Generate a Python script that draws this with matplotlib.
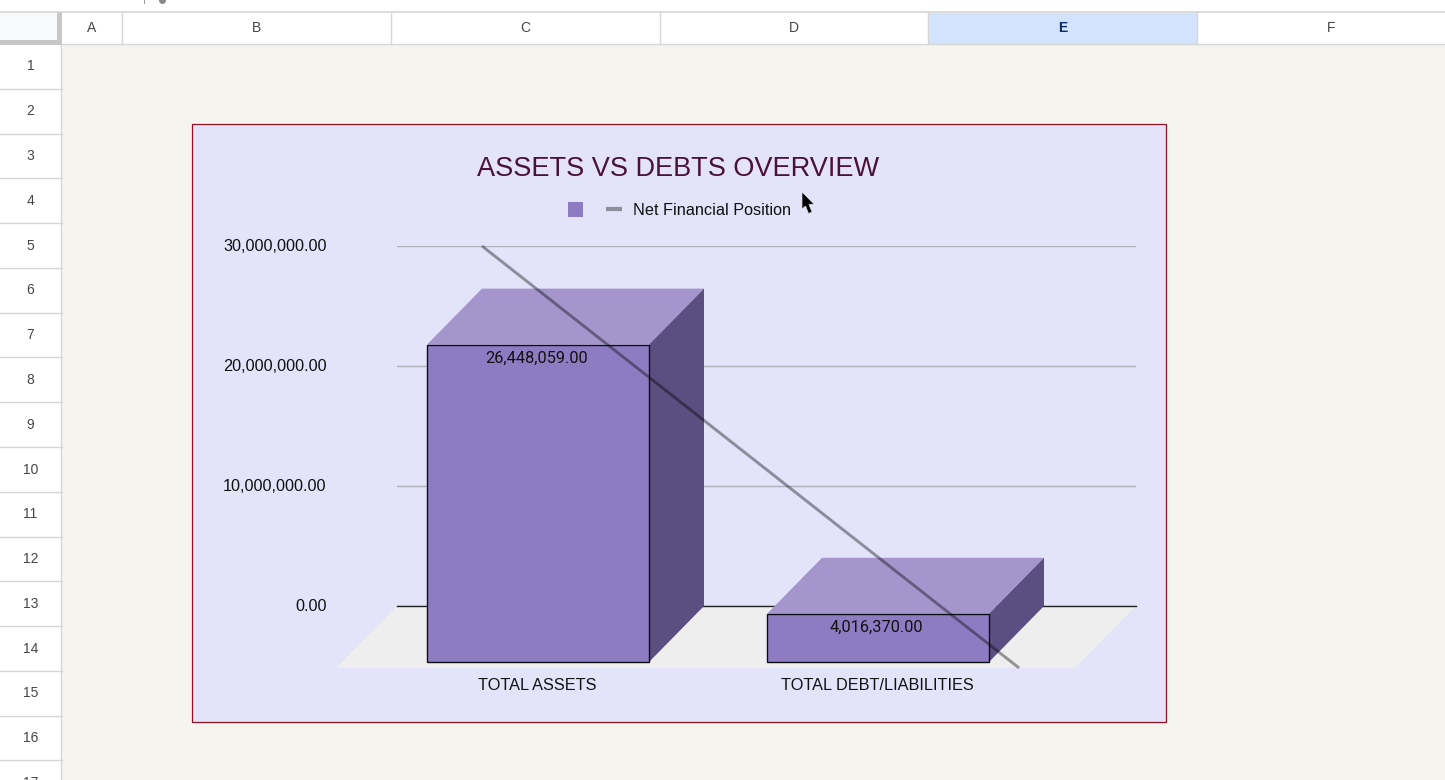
import matplotlib
matplotlib.use("Agg")
import matplotlib.pyplot as plt
from matplotlib.patches import Rectangle, Patch, Polygon
from matplotlib.lines import Line2D
from matplotlib.transforms import ScaledTranslation

# ---- data ----
categories = ["TOTAL ASSETS", "TOTAL DEBT/LIABILITIES"]
bar_values = [26448059.00, 4016370.00]
bar_labels = ["26,448,059.00", "4,016,370.00"]
net_position = [22730000.0, 470000.0]
y_ticks = [0, 10000000, 20000000, 30000000]
y_tick_labels = ["0.00", "10,000,000.00", "20,000,000.00", "30,000,000.00"]
title = "ASSETS VS DEBTS OVERVIEW"
legend_labels = [" ", "Net Financial Position"]
col_names = ["A", "B", "C", "D", "E", "F"]
row_names = [str(i) for i in range(1, 18)]

# ---- layout helpers (pixels) ----
W, H = 1445, 780
plt.rcParams["font.family"] = ["Liberation Sans", "DejaVu Sans"]
fig = plt.figure(figsize=(W / 100, H / 100), dpi=100, facecolor="#ffffff")
PT = 72 / 100  # points per pixel

# ---- spreadsheet chrome in pixel coordinates ----
bg = fig.add_axes([0, 0, 1, 1], zorder=0)
bg.set_xlim(0, W)
bg.set_ylim(H, 0)
bg.axis("off")
GRID = "#d6d6d6"
HEAD = "#444746"
bg.add_patch(Rectangle((62, 44), W - 62, H - 44, fc="#f5f4ef", ec="none"))
bg.add_patch(Rectangle((0, 12), 58, 28, fc="#f8f9fa", ec="none"))
bg.add_patch(Rectangle((57, 12), 5, 32, fc="#c7c7c7", ec="none"))
bg.add_patch(Rectangle((0, 40), 62, 4.5, fc="#c7c7c7", ec="none"))
bg.plot([0, W], [12, 12], color=GRID, lw=1.2)
bg.plot([62, W], [44, 44], color=GRID, lw=1.0)
bg.plot([61, 61], [44, H], color=GRID, lw=1.0)
bg.plot([144, 144], [0, 3], color="#9a9a9a", lw=0.7)
bg.plot([162], [0], "o", color="#8a8a8a", ms=4, clip_on=True)

col_edges = [62, 122, 391, 659.5, 928, 1197, 1465]
bg.add_patch(Rectangle((928, 13), 269, 31, fc="#d3e3fd", ec="none"))
for i, name in enumerate(col_names):
    left, right = col_edges[i], col_edges[i + 1]
    if i > 0:
        bg.plot([left, left], [12, 44], color=GRID, lw=1.0)
    active = name == "E"
    bg.text((left + right) / 2, 28.5, name, ha="center", va="center", fontsize=10,
            color="#0b2a63" if active else HEAD,
            fontweight="bold" if active else "normal")
for i, name in enumerate(row_names):
    top = 44 + i * 44.78
    bg.plot([0, 62], [top + 44.78, top + 44.78], color=GRID, lw=1.0)
    bg.text(30.5, top + 22.5, name, ha="center", va="center", fontsize=10, color=HEAD)

bg.add_patch(Rectangle((191.5, 124), 974.5, 598, fc="#e3e3f9", ec="#930f24", lw=0.9))

# ---- chart axes: x = 397..1136 px, value 0 at y=606 px, 30M at y=246 px ----
ax = fig.add_axes([397 / W, 1 - 606 / H, 739 / W, 360 / H], zorder=1)
ax.patch.set_alpha(0)
PX_PER_CAT = 340.0
PX_PER_VAL = 360.0 / 30000000
ax.set_xlim((397 - 538) / PX_PER_CAT, (1136 - 538) / PX_PER_CAT)
ax.set_ylim(0, 30000000)
x_pos = list(range(len(categories)))
bar_w = 222 / PX_PER_CAT
dx_bar, dy_bar = 55 / PX_PER_CAT, 56 / PX_PER_VAL
dx_floor, dy_floor = 61 / PX_PER_CAT, 62 / PX_PER_VAL

for s in ("top", "left", "right"):
    ax.spines[s].set_visible(False)
ax.spines["bottom"].set_color("#222222")
ax.spines["bottom"].set_linewidth(1.0)
ax.spines["bottom"].set_zorder(1.5)
ax.grid(axis="y", color="#aeb0bd", lw=1.0, zorder=1)
ax.set_axisbelow(True)
ax.set_yticks(y_ticks, y_tick_labels, fontsize=11.7, color="#111111")
ax.set_xticks(x_pos, categories, fontsize=11.7, color="#111111")
ax.tick_params(axis="y", length=0, pad=70.5 * PT)
ax.tick_params(axis="x", length=0, pad=72 * PT)
for lab in ax.get_yticklabels():
    lab.set_transform(lab.get_transform() + ScaledTranslation(0, 1 / 100, fig.dpi_scale_trans))
for lab in ax.get_xticklabels():
    lab.set_transform(lab.get_transform() + ScaledTranslation(-1 / 100, 0, fig.dpi_scale_trans))

# floor
x0, x1 = ax.get_xlim()
ax.add_patch(Polygon([(x0, 0), (x1, 0), (x1 - dx_floor, -dy_floor), (x0 - dx_floor, -dy_floor)],
                     fc="#eeeeee", ec="none", clip_on=False, zorder=1.2))

# 3D bars
for x, v in zip(x_pos, bar_values):
    l, r = x - bar_w / 2, x + bar_w / 2
    top = v - dy_bar
    ax.add_patch(Polygon([(l, top), (r, top), (r + dx_bar, v), (l + dx_bar, v)],
                         fc="#a496cd", ec="none", clip_on=False, zorder=2))
    ax.add_patch(Polygon([(r, top), (r + dx_bar, v), (r + dx_bar, 0), (r, -dy_bar)],
                         fc="#5b4e80", ec="none", clip_on=False, zorder=2))
bars = ax.bar(x_pos, bar_values, width=bar_w, bottom=-dy_bar, color="#8e7cc3",
              edgecolor="#0c0c14", linewidth=1.0, clip_on=False, zorder=3)

for x, v, lab in zip(x_pos, bar_values, bar_labels):
    ax.annotate(lab, (x, v - dy_bar), xytext=(-1.2 * PT, -13.5 * PT), textcoords="offset points",
                ha="center", va="center", fontsize=11.8, color="#111111",
                family=["Roboto", "DejaVu Sans"], zorder=5, annotation_clip=False)

# net position line, on the rear plane, running to the chart's top and floor
slope = (net_position[1] - net_position[0]) / (x_pos[1] - x_pos[0])
xb0 = x_pos[0] + dx_bar
x_at = lambda y: xb0 + (y - net_position[0]) / slope
y_end = [y_ticks[-1], -dy_floor]
ax.plot([x_at(y) for y in y_end], y_end, color="#000000", alpha=0.38, lw=2.1,
        clip_on=False, zorder=4, solid_capstyle="butt")

ax.set_title(title, x=(678.5 - 397) / 739, y=1.0, pad=70 * PT, fontsize=19.5,
             color="#4a1238", ha="center")

handles = [Patch(fc="#8e7cc3", ec="none"),
           Line2D([], [], color="#8f8f9d", lw=4.2 * PT, solid_capstyle="butt")]
fig.legend(handles, legend_labels, loc="center left",
           bbox_to_anchor=(568 / W, 1 - 210 / H), ncols=2, frameon=False,
           fontsize=11.7, handlelength=0.95, handleheight=1.0, handletextpad=0.68,
           columnspacing=0.46, borderpad=0, borderaxespad=0, labelcolor="#111111")

# mouse pointer from the screenshot
over = fig.add_axes([0, 0, 1, 1], zorder=3)
over.set_xlim(0, W)
over.set_ylim(H, 0)
over.axis("off")
over.add_patch(Polygon([(802, 192), (802, 209), (805.5, 206), (808.5, 213.5), (812, 212),
                        (809, 204.5), (814, 204)], fc="#000000", ec="#d8d8e8", lw=0.5))

fig.savefig("out.png", dpi=100, facecolor=fig.get_facecolor())
